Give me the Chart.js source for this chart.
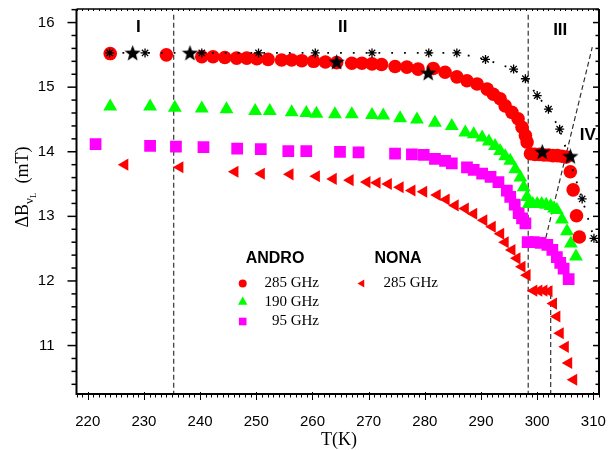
<!DOCTYPE html>
<html>
<head>
<meta charset="utf-8">
<script src="https://cdn.jsdelivr.net/npm/chart.js@4.4.1/dist/chart.umd.min.js"></script>
<style>
  body { margin: 0; background: #fff; }
  #wrap { width: 614px; height: 450px; position: relative; }
</style>
</head>
<body>
<div id="wrap"><canvas id="linewidth-chart"></canvas></div>
<script>
// T (K), ΔB (mT)
const andro285 = [
    [224.0, 15.52], [234.0, 15.50], [240.3, 15.47], [242.3, 15.47], [244.4, 15.46],
    [246.5, 15.45], [248.3, 15.45], [250.1, 15.44], [252.1, 15.43], [254.5, 15.42],
    [256.3, 15.42], [258.1, 15.41], [260.2, 15.40], [262.3, 15.39], [264.3, 15.38],
    [267.0, 15.37], [268.8, 15.37], [270.6, 15.36], [272.3, 15.35], [274.7, 15.32],
    [276.8, 15.31], [278.8, 15.28], [281.5, 15.29], [283.6, 15.23], [285.7, 15.16],
    [287.5, 15.10], [289.3, 15.05], [291.1, 14.97], [292.2, 14.89], [293.4, 14.82],
    [294.3, 14.71], [295.5, 14.61], [296.6, 14.51], [297.3, 14.38], [297.9, 14.25],
    [298.2, 14.15], [298.8, 13.97], [299.6, 13.96], [300.4, 13.96], [301.2, 13.95],
    [302.0, 13.95], [302.8, 13.94], [303.6, 13.94], [304.4, 13.93], [305.2, 13.92],
    [305.9, 13.69], [306.4, 13.41], [307.0, 13.01], [307.5, 12.68],
];
const andro285Stars = [
    [228.0, 15.52], [238.2, 15.52], [264.3, 15.38], [280.6, 15.21], [300.9, 13.99], [305.9, 13.92],
];
const andro285Ref = [
    [223.9, 15.53], [230.2, 15.53], [240.3, 15.53], [250.4, 15.53], [260.5, 15.53],
    [270.6, 15.53], [280.7, 15.53], [285.7, 15.53], [290.8, 15.43], [295.8, 15.28],
    [297.9, 15.13], [300.0, 14.87], [302.0, 14.66], [304.0, 14.35], [308.0, 13.27],
    [310.1, 12.66],
];
const andro190 = [
    [224.0, 14.70], [231.1, 14.70], [235.5, 14.68], [240.3, 14.67], [244.7, 14.66],
    [249.8, 14.63], [252.4, 14.63], [256.3, 14.61], [258.9, 14.60], [260.7, 14.59],
    [264.0, 14.58], [267.0, 14.58], [270.6, 14.57], [272.6, 14.56], [275.6, 14.52],
    [278.6, 14.50], [281.8, 14.45], [284.8, 14.40], [287.2, 14.30], [288.7, 14.27],
    [290.2, 14.22], [291.4, 14.16], [292.5, 14.09], [293.4, 14.01], [294.3, 13.93],
    [295.2, 13.86], [296.1, 13.73], [297.0, 13.60], [297.6, 13.45], [298.2, 13.30],
    [298.5, 13.19], [299.2, 13.19], [300.0, 13.19], [300.8, 13.19], [301.6, 13.18],
    [302.4, 13.16], [303.0, 13.12], [303.5, 13.10], [304.4, 12.95], [305.3, 12.77],
    [306.0, 12.58], [306.9, 12.38],
];
const andro95 = [
    [221.4, 14.12], [231.1, 14.09], [235.7, 14.08], [240.6, 14.07], [246.6, 14.05],
    [250.8, 14.04], [255.7, 14.01], [258.9, 14.01], [264.9, 14.00], [268.2, 13.99],
    [274.7, 13.97], [277.7, 13.96], [279.8, 13.95], [281.8, 13.89], [283.6, 13.86],
    [284.8, 13.82], [287.5, 13.76], [288.7, 13.72], [290.2, 13.66], [291.7, 13.61],
    [293.1, 13.53], [294.6, 13.40], [295.2, 13.30], [296.0, 13.18], [296.7, 13.05],
    [297.3, 12.97], [297.9, 12.89], [298.3, 12.60], [299.4, 12.60], [300.6, 12.59],
    [301.8, 12.56], [302.7, 12.48], [303.5, 12.37], [304.1, 12.28], [304.7, 12.19],
    [305.6, 12.03],
];
const nona285 = [
    [226.6, 13.80], [236.4, 13.76], [246.2, 13.69], [250.9, 13.66], [256.0, 13.65],
    [260.7, 13.62], [263.7, 13.58], [266.7, 13.56], [269.7, 13.53], [271.5, 13.52],
    [273.5, 13.50], [275.6, 13.45], [277.7, 13.40], [279.8, 13.38], [282.2, 13.33],
    [283.8, 13.26], [285.4, 13.17], [287.2, 13.12], [288.7, 13.04], [290.5, 12.94],
    [292.0, 12.84], [293.5, 12.73], [294.3, 12.60], [295.5, 12.48], [296.4, 12.35],
    [297.3, 12.22], [298.2, 12.09], [299.4, 11.85], [300.3, 11.85], [301.2, 11.85],
    [302.1, 11.84], [302.9, 11.65], [303.5, 11.45], [304.1, 11.19], [305.0, 10.98],
    [305.6, 10.73], [306.5, 10.47],
];

// dashed boundaries between regions
const boundaryA = [[235.3, 16.12], [235.3, 10.25]];
const boundaryB = [[298.4, 16.12], [298.4, 10.25]];
const boundaryC = [[302.4, 11.92], [302.4, 10.25]];
const boundaryD = [[301.2, 12.55], [309.8, 15.62]];

const regionLabels = ["I", "II", "III", "IV"];
const regionPos = [[229.0, 15.93], [265.4, 15.93], [304.1, 15.88], [309.0, 14.25]];

const xTickValues = [220, 230, 240, 250, 260, 270, 280, 290, 300, 310];
const yTickValues = [11, 12, 13, 14, 15, 16];

const androLabels = ["285 GHz", "190 GHz", "95 GHz"];
const nonaLabels = ["285 GHz"];

const toXY = (arr) => arr.map((p) => ({ x: p[0], y: p[1] }));

// filled five-point star used as point style
function makeStar(size) {
    const c = document.createElement("canvas");
    c.width = size;
    c.height = size;
    const g = c.getContext("2d");
    const R = size / 2, r = R * 0.42;
    g.beginPath();
    for (let i = 0; i < 10; i++) {
        const rad = (i % 2 === 0) ? R : r;
        const a = -Math.PI / 2 + i * Math.PI / 5;
        g.lineTo(R + rad * Math.cos(a), R + rad * Math.sin(a));
    }
    g.closePath();
    g.fillStyle = "#000";
    g.fill();
    return c;
}

function boundary(data) {
    return {
        data: toXY(data),
        showLine: true,
        borderColor: "#333",
        borderWidth: 1.2,
        borderDash: [5, 3],
        pointRadius: 0,
        fill: false,
    };
}

function drawMarker(ctx, kind, x, y, r, color) {
    ctx.fillStyle = color;
    ctx.beginPath();
    if (kind === "circle") {
        ctx.arc(x, y, r, 0, Math.PI * 2);
    } else if (kind === "triangle") {
        ctx.moveTo(x, y - r);
        ctx.lineTo(x + r * 0.866, y + r / 2);
        ctx.lineTo(x - r * 0.866, y + r / 2);
    } else if (kind === "rect") {
        ctx.rect(x - r, y - r, 2 * r, 2 * r);
    } else if (kind === "left") {
        ctx.moveTo(x - r, y);
        ctx.lineTo(x + r / 2, y - r * 0.866);
        ctx.lineTo(x + r / 2, y + r * 0.866);
    }
    ctx.closePath();
    ctx.fill();
}

const decor = {
    id: "decor",
    afterDraw(chart) {
        const { ctx, chartArea: a, scales } = chart;
        const sx = scales.x, sy = scales.y;
        ctx.save();
        ctx.strokeStyle = "#000";

        // frame
        ctx.lineWidth = 2;
        ctx.beginPath();
        ctx.moveTo(a.left, a.top);
        ctx.lineTo(a.left, a.bottom);
        ctx.lineTo(a.right, a.bottom);
        ctx.lineTo(a.right, a.top);
        ctx.stroke();
        ctx.lineWidth = 1.5;
        ctx.beginPath();
        ctx.moveTo(a.left, a.top);
        ctx.lineTo(a.right, a.top);
        ctx.stroke();

        // x ticks, every 1 K
        ctx.lineWidth = 1;
        for (let t = 218; t <= 311; t++) {
            const px = Math.round(sx.getPixelForValue(t)) + 0.5;
            const major = t % 10 === 0;
            ctx.beginPath();
            ctx.moveTo(px, a.bottom - (major ? 2 : 0));
            ctx.lineTo(px, a.bottom + (major ? 6 : 3.5));
            ctx.stroke();
            ctx.beginPath();
            ctx.moveTo(px, a.top);
            ctx.lineTo(px, a.top + 2);
            ctx.stroke();
        }
        // y ticks, every 0.2 mT
        ctx.lineWidth = 1.5;
        for (let k = 52; k <= 81; k++) {
            const py = sy.getPixelForValue(k / 5);
            const major = k % 5 === 0;
            ctx.beginPath();
            ctx.moveTo(a.left, py);
            ctx.lineTo(a.left - (major ? 9 : 5), py);
            ctx.stroke();
            ctx.beginPath();
            ctx.moveTo(a.right, py);
            ctx.lineTo(a.right - (major ? 6 : 3.5), py);
            ctx.stroke();
        }

        // region labels
        ctx.fillStyle = "#000";
        ctx.font = "bold 17px 'Liberation Sans', Arial, sans-serif";
        ctx.textAlign = "center";
        ctx.textBaseline = "middle";
        regionLabels.forEach((lab, i) => {
            ctx.fillText(lab, sx.getPixelForValue(regionPos[i][0]), sy.getPixelForValue(regionPos[i][1]));
        });

        // legend
        ctx.font = "bold 16px 'Liberation Sans', Arial, sans-serif";
        ctx.fillText("ANDRO", 275, 259);
        ctx.fillText("NONA", 398, 259);
        ctx.font = "15px 'Liberation Serif', 'Times New Roman', serif";
        ctx.textAlign = "right";
        const androKinds = [["circle", 4, "#ff0000"], ["triangle", 5.5, "#00ff00"], ["rect", 3.8, "#ff00ff"]];
        const rowsY = [283.5, 302, 321.5];
        androLabels.forEach((lab, i) => {
            const k = androKinds[i];
            drawMarker(ctx, k[0], 242.7, rowsY[i], k[1], k[2]);
            ctx.fillStyle = "#000";
            ctx.fillText(lab, 319, rowsY[i]);
        });
        nonaLabels.forEach((lab, i) => {
            drawMarker(ctx, "left", 362, rowsY[i], 4.5, "#ff0000");
            ctx.fillStyle = "#000";
            ctx.fillText(lab, 438, rowsY[i]);
        });

        // axis titles
        ctx.textAlign = "center";
        ctx.font = "18px 'Liberation Serif', 'Times New Roman', serif";
        ctx.fillText("T(K)", 339, 440);

        ctx.translate(28, 187);
        ctx.rotate(-Math.PI / 2);
        ctx.textAlign = "left";
        ctx.textBaseline = "alphabetic";
        const big = "18px 'Liberation Serif', 'Times New Roman', serif";
        const mid = "13px 'Liberation Serif', 'Times New Roman', serif";
        const small = "9px 'Liberation Serif', 'Times New Roman', serif";
        const parts = [["ΔB", big, 0], ["ν", mid, 5], ["L", small, 7.5], ["  (mT)", big, 0]];
        let total = 0;
        parts.forEach((p) => { ctx.font = p[1]; total += ctx.measureText(p[0]).width; });
        let cx = -total / 2;
        parts.forEach((p) => {
            ctx.font = p[1];
            ctx.fillText(p[0], cx, p[2]);
            cx += ctx.measureText(p[0]).width;
        });
        ctx.restore();
    },
};

const tickFont = { family: "'Liberation Sans', Arial, sans-serif", size: 15 };

function noPad(s) {
    s.paddingTop = 0;
    s.paddingBottom = 0;
    s.paddingLeft = 0;
    s.paddingRight = 0;
}

new Chart(document.getElementById("linewidth-chart"), {
    type: "scatter",
    data: {
        datasets: [
            {
                data: toXY(andro285Stars),
                pointStyle: makeStar(17),
                pointRadius: 8,
            },
            {
                data: toXY(andro285Ref),
                showLine: true,
                borderColor: "#000",
                borderWidth: 1.8,
                borderDash: [1.8, 11],
                pointStyle: "star",
                pointRadius: 4.5,
                pointBorderColor: "#000",
                pointBorderWidth: 1.3,
            },
            {
                data: toXY(andro285),
                pointStyle: "circle",
                pointRadius: 6.8,
                backgroundColor: "#ff0000",
                borderWidth: 0,
            },
            {
                data: toXY(andro190),
                pointStyle: "triangle",
                pointRadius: 8,
                backgroundColor: "#00ff00",
                borderWidth: 0,
            },
            {
                data: toXY(andro95),
                pointStyle: "rect",
                pointRadius: 8.3,
                backgroundColor: "#ff00ff",
                borderWidth: 0,
            },
            {
                data: toXY(nona285),
                pointStyle: "triangle",
                rotation: 270,
                pointRadius: 7,
                backgroundColor: "#ff0000",
                borderWidth: 0,
            },
            boundary(boundaryA),
            boundary(boundaryB),
            boundary(boundaryC),
            boundary(boundaryD),
        ],
    },
    options: {
        animation: false,
        responsive: true,
        maintainAspectRatio: false,
        events: [],
        layout: { padding: { top: 8, right: 15, left: 0, bottom: 0 } },
        scales: {
            x: {
                type: "linear",
                min: 218,
                max: 311,
                grid: { display: false },
                border: { display: false },
                afterBuildTicks: (s) => { s.ticks = xTickValues.map((v) => ({ value: v })); },
                afterFit: (s) => { s.height = 56; noPad(s); },
                ticks: { font: tickFont, color: "#000", padding: 11, maxRotation: 0, autoSkip: false },
            },
            y: {
                type: "linear",
                min: 10.25,
                max: 16.21,
                grid: { display: false },
                border: { display: false },
                afterBuildTicks: (s) => { s.ticks = yTickValues.map((v) => ({ value: v })); },
                afterFit: (s) => { s.width = 76.5; noPad(s); },
                ticks: { font: tickFont, color: "#000", padding: 14, autoSkip: false },
            },
        },
        plugins: {
            legend: { display: false },
            tooltip: { enabled: false },
        },
    },
    plugins: [decor],
});
</script>
</body>
</html>
